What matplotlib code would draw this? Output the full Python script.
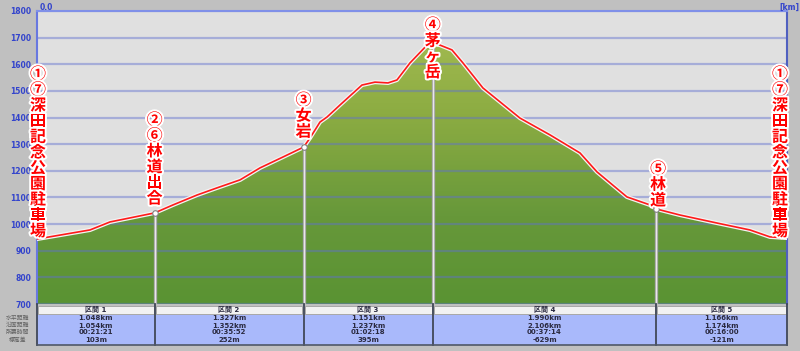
import numpy as np
import matplotlib
matplotlib.use("Agg")
import matplotlib.pyplot as plt
import matplotlib.patheffects as pe
from matplotlib.colors import LinearSegmentedColormap
from matplotlib.patches import Rectangle, Polygon

plt.rcParams['font.family'] = ['DejaVu Sans', 'Noto Sans CJK JP']

# 標高プロファイル (水平距離 km, 標高 m)
dist_km = [0.0, 0.472, 0.650, 1.048, 1.212, 1.425, 1.604, 1.809, 1.987, 2.192,
           2.375, 2.432, 2.521, 2.584, 2.699, 2.895, 3.011, 3.127, 3.207, 3.323,
           3.475, 3.526, 3.590, 3.697, 3.795, 3.973, 4.303, 4.570, 4.838, 4.989,
           5.256, 5.461, 5.516, 5.729, 6.058, 6.352, 6.530, 6.682]
elev_m = [944, 978, 1008, 1042, 1072, 1109, 1136, 1166, 1211, 1252,
          1289, 1323, 1383, 1402, 1447, 1522, 1533, 1530, 1541, 1605,
          1672, 1676, 1672, 1654, 1605, 1511, 1398, 1335, 1267, 1196,
          1102, 1072, 1057, 1034, 1004, 978, 952, 948]

# 区間データ
sections = ["区間 1", "区間 2", "区間 3", "区間 4", "区間 5"]
horiz_km = [1.048, 1.327, 1.151, 1.990, 1.166]
slope_km = [1.054, 1.352, 1.237, 2.106, 1.174]
times = ["00:21:21", "00:35:52", "01:02:18", "00:37:14", "00:16:00"]
elev_diff = [103, 252, 395, -629, -121]
row_names = ["水平距離", "沿面距離", "所要時間", "標高差"]

point_names = ["①⑦深田記念公園駐車場", "②⑥林道出合", "③女岩", "④茅ヶ岳", "⑤林道",
               "①⑦深田記念公園駐車場"]
yticks = list(range(700, 1801, 100))

# ラベル位置 (点からの上方向オフセット px, 横オフセット px)
label_top = [173, 101, 55, 27, 48, 172]
label_dx = [1, 0, 0, 0, 2, -7]
step = 15.7

W, H = 800, 351
fig = plt.figure(figsize=(8, 3.51), dpi=100, facecolor='#c0c0c0')
ax = fig.add_axes([37 / W, (H - 304) / H, 750 / W, 293 / H])
ax.set_facecolor('#e0e0e0')

total = sum(horiz_km)
marks = np.concatenate([[0], np.cumsum(horiz_km)])
mark_elev = np.interp(marks, dist_km, elev_m)

# グラデーション塗り
cmap = LinearSegmentedColormap.from_list(
    'g', [(0, '#5a9333'), (0.3, '#67983a'), (0.65, '#8cac42'), (1.0, '#a8be54')])
grad = np.linspace(0, 1, 200).reshape(-1, 1)
im = ax.imshow(grad, extent=[0, total, 700, 1800], origin='lower', aspect='auto',
               cmap=cmap, zorder=1)
verts = list(zip(dist_km, elev_m)) + [(total, 700), (0, 700)]
poly = Polygon(verts, closed=True, facecolor='none', edgecolor='none')
ax.add_patch(poly)
im.set_clip_path(poly)

ax.set_yticks(yticks)
ax.grid(axis='y', color='#6070d0', alpha=0.45, lw=1.6)
ax.set_xticks([])
ax.set_xlim(0, total)
ax.set_ylim(700, 1800)
ax.tick_params(axis='y', length=0, pad=4, labelsize=5.5, labelcolor='#3344cc')
for t in ax.get_yticklabels():
    t.set_fontweight('bold')
ax.spines['bottom'].set_visible(False)
ax.spines['left'].set_color('#6878e0')
ax.spines['left'].set_linewidth(1.5)
ax.spines['top'].set_color('#8090e8')
ax.spines['top'].set_linewidth(1.5)
ax.spines['right'].set_color('#5060c0')
ax.spines['right'].set_linewidth(1.5)

# 標高線
ax.plot(dist_km, elev_m, color='#ff1a1a', lw=1.2, zorder=4,
        path_effects=[pe.Stroke(linewidth=3, foreground='#f4f4f4'), pe.Normal()])

# 地点の縦線とマーカー
for i in range(1, len(marks) - 1):
    ax.vlines(marks[i], 700, mark_elev[i], color='#a0a0a0', lw=2.4, zorder=3)
    ax.vlines(marks[i], 700, mark_elev[i], color='#e8e8e8', lw=1.0, zorder=3)
    if i != 3:
        ax.plot(marks[i], mark_elev[i], 'o', ms=4, mfc='white', mec='#808080',
                mew=0.8, zorder=5)

# 地点名 (縦書き)
for k, name in enumerate(point_names):
    for i, ch in enumerate(name):
        ax.annotate(ch, xy=(marks[k], mark_elev[k]), xytext=(label_dx[k], label_top[k] - i * step),
                    textcoords='offset pixels', ha='center', va='top', fontsize=11.5,
                    fontweight='bold', color='#ff0000', annotation_clip=False,
                    family=['Noto Sans CJK JP', 'DejaVu Sans'], zorder=6,
                    path_effects=[pe.withStroke(linewidth=2.8, foreground='white')])

fig.text(40 / W, 1 - 7 / H, "0.0", fontsize=5.5, color='#3344cc', fontweight='bold', va='center')
fig.text(799 / W, 1 - 7 / H, "[km]", fontsize=5.5, color='#3344cc', fontweight='bold',
         va='center', ha='right')

# 区間表
tax = fig.add_axes([37 / W, (H - 346) / H, 750 / W, 42 / H])
tax.set_xlim(0, total)
tax.set_ylim(42, 0)
tax.axis('off')
for i in range(len(sections)):
    x0, x1 = marks[i], marks[i + 1]
    tax.add_patch(Rectangle((x0 + 0.01, 1.5), x1 - x0 - 0.02, 8, facecolor='#f2f2f2',
                            edgecolor='#a0a0a0', lw=0.6))
    tax.add_patch(Rectangle((x0, 10.5), x1 - x0, 30.5, facecolor='#a9b9fb', edgecolor='none'))
    xc = (x0 + x1) / 2
    kw = dict(ha='center', va='center', fontsize=5, fontweight='bold', color='#2a2a40')
    tax.text(xc, 5.5, sections[i], **kw)
    tax.text(xc, 14, f"{horiz_km[i]:.3f}km", **kw)
    tax.text(xc, 21.5, f"{slope_km[i]:.3f}km", **kw)
    tax.text(xc, 28.5, times[i], **kw)
    tax.text(xc, 35.5, f"{elev_diff[i]}m", **kw)
for x in marks:
    tax.plot([x, x], [0, 41], color='#404858', lw=1.3, clip_on=False)
tax.plot([0, total], [41, 41], color='#505868', lw=1.2, clip_on=False)
for j, rn in enumerate(row_names):
    tax.text(-0.17, 14 + j * 7.2, rn, ha='center', va='center', fontsize=4.2,
             color='#606060', clip_on=False)

fig.savefig("out.png", dpi=100, facecolor=fig.get_facecolor())
